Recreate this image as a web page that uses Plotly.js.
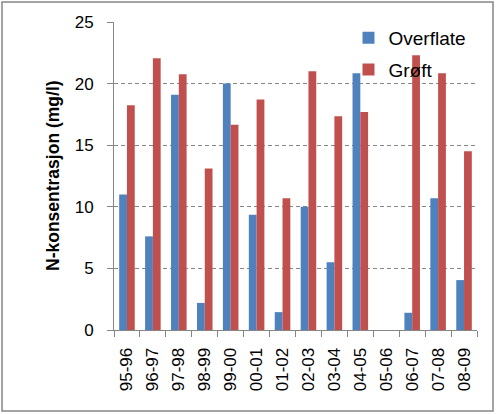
<!DOCTYPE html>
<html>
<head>
<meta charset="utf-8">
<script src="https://cdn.plot.ly/plotly-3.0.1.min.js"></script>
<style>
html,body{margin:0;padding:0;background:#fff;}
#chart{width:497px;height:414px;}
</style>
</head>
<body>
<div id="chart"></div>
<script>
var categories = ['95-96','96-97','97-98','98-99','99-00','00-01','01-02','02-03','03-04','04-05','05-06','06-07','07-08','08-09'];
var overflate = [11.0, 7.6, 19.1, 2.2, 20.0, 9.35, 1.45, 10.0, 5.5, 20.85, null, 1.4, 10.7, 4.05];
var groft = [18.25, 22.05, 20.75, 13.1, 16.65, 18.7, 10.7, 21.0, 17.35, 17.7, null, 22.3, 20.85, 14.5];
var yTicks = [0, 5, 10, 15, 20, 25];
var seriesNames = ['Overflate', 'Grøft'];
var yTitle = 'N-konsentrasjon (mg/l)';

var font = 'Liberation Sans, Arial, sans-serif';
var gray = '#868686';

var traces = [
  {type:'bar', name:seriesNames[0], x:categories, y:overflate, marker:{color:'#4F81BD'}, legendgroup:'a'},
  {type:'bar', name:seriesNames[1], x:categories, y:groft, marker:{color:'#C0504D'}, legendgroup:'b'}
];

var layout = {
  width:497, height:414,
  margin:{l:114, r:20, t:22, b:84, pad:0},
  paper_bgcolor:'#fff', plot_bgcolor:'#fff',
  font:{family:font, color:'#000', size:17},
  barmode:'group', bargap:0.4, bargroupgap:0,
  showlegend:true,
  legend:{x:0.646, y:1.01, xanchor:'left', yanchor:'top', bgcolor:'rgba(0,0,0,0)',
          font:{family:font, size:19, color:'#000'}, tracegroupgap:4},
  xaxis:{type:'category', showgrid:false, showline:true, linecolor:gray, linewidth:1,
         ticks:'outside', tickson:'boundaries', ticklen:6, tickcolor:gray, tickwidth:1,
         tickangle:-90, tickfont:{size:17, family:font, color:'#000'}, ticklabelstandoff:10,
         zeroline:false, fixedrange:true},
  yaxis:{range:[0,25], tickvals:yTicks, ticktext:yTicks.map(String), showgrid:true, gridcolor:gray,
         griddash:'4px,3px', gridwidth:1, showline:true, linecolor:gray, linewidth:1,
         ticks:'outside', ticklen:6, tickcolor:gray, tickwidth:1, zeroline:false,
         tickfont:{size:17, family:font, color:'#000'}, ticklabelstandoff:10, fixedrange:true},
  annotations:[{text:'<b>'+yTitle+'</b>', xref:'paper', yref:'paper', x:(53-114)/363, y:0.5,
                textangle:-90, showarrow:false, font:{family:font, size:17.5, color:'#000'},
                xanchor:'center', yanchor:'middle'}],
  shapes:[{type:'rect', xref:'paper', yref:'paper', x0:(2-114)/363, x1:(493-114)/363,
           y0:(330-411)/308, y1:(330-2)/308, line:{color:gray, width:1.5}, fillcolor:'rgba(0,0,0,0)'}]
};

Plotly.newPlot('chart', traces, layout, {displayModeBar:false, staticPlot:true});
</script>
</body>
</html>
